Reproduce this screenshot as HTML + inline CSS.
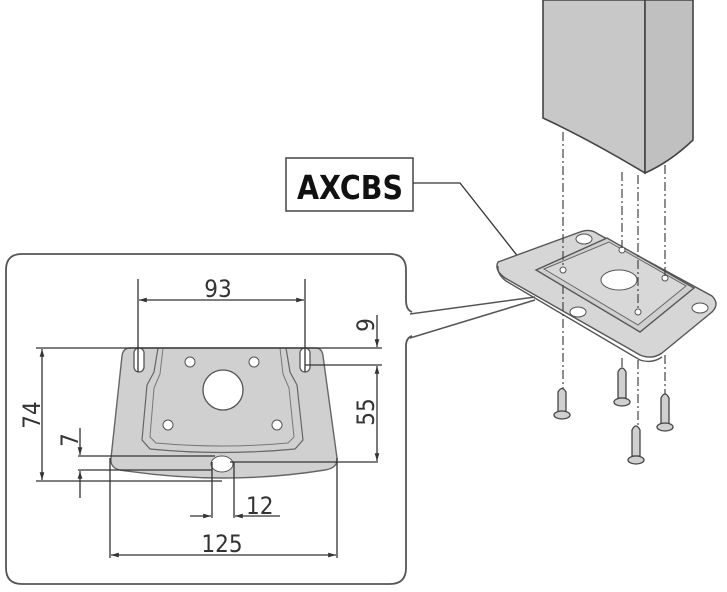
<!DOCTYPE html>
<html><head><meta charset="utf-8"><style>
html,body{margin:0;padding:0;background:#fff;}
svg{display:block;}
text{font-family:"DejaVu Sans Condensed","Liberation Sans",sans-serif;fill:#333;}
</style></head><body>
<svg width="727" height="592" viewBox="0 0 727 592" xmlns="http://www.w3.org/2000/svg">
<defs>
<marker id="a" viewBox="0 0 10 10" refX="10" refY="5" markerWidth="6" markerHeight="6" orient="auto-start-reverse"><path d="M0,2 L10,5 L0,8 z" fill="#333"/></marker>
</defs>
<!-- callout frame -->
<path d="M412,312 Q406,310 406,300 V270 Q406,254 390,254 H22 Q6,254 6,270 V568 Q6,584 22,584 H390 Q406,584 406,568 V346 Q406,338 412,336" fill="none" stroke="#555" stroke-width="1.8"/>
<line x1="410" y1="314" x2="535" y2="297" stroke="#555" stroke-width="1.5"/>
<line x1="410" y1="338" x2="535" y2="300" stroke="#555" stroke-width="1.5"/>

<!-- left flat plate -->
<path d="M130,348 H316 Q322,348 323,356 L337,458 Q338,468 325,470 Q225,486 120,470 Q110,468 111,458 L122,356 Q123,348 130,348 Z" fill="#d0d0d0" stroke="#666" stroke-width="1.4"/>
<path d="M158,348 L154,372 L147,385 L142,440 L150,449 Q222,456 295,449 L303,440 L297,385 L290,372 L286,348" fill="none" stroke="#666" stroke-width="1.2"/>
<path d="M163,348 L160,374 L154,388 L150,437 L156,443 Q222,449 288,443 L294,437 L289,388 L283,374 L280,348" fill="none" stroke="#777" stroke-width="1"/>
<rect x="134" y="348" width="10" height="24" rx="5" fill="#fff" stroke="#555" stroke-width="1.3"/>
<rect x="300" y="348" width="10" height="24" rx="5" fill="#fff" stroke="#555" stroke-width="1.3"/>
<circle cx="190" cy="362" r="5" fill="#fff" stroke="#555"/>
<circle cx="254" cy="362" r="5" fill="#fff" stroke="#555"/>
<circle cx="168" cy="425" r="5" fill="#fff" stroke="#555"/>
<circle cx="277" cy="425" r="5" fill="#fff" stroke="#555"/>
<circle cx="223" cy="390" r="20" fill="#fff" stroke="#555" stroke-width="1.3"/>
<ellipse cx="222" cy="464" rx="11" ry="8" fill="#fff" stroke="#555"/>

<g stroke="#333" stroke-width="1.3" fill="none">
<line x1="138" y1="279" x2="138" y2="372"/><line x1="305" y1="279" x2="305" y2="372"/>
<line x1="139" y1="300" x2="304" y2="300" marker-start="url(#a)" marker-end="url(#a)"/>
<line x1="36" y1="348" x2="382" y2="348"/>
<line x1="42" y1="349" x2="42" y2="480" marker-start="url(#a)" marker-end="url(#a)"/>
<line x1="36" y1="481" x2="222" y2="481"/>
<line x1="305" y1="365" x2="382" y2="365"/>
<line x1="377" y1="315" x2="377" y2="347" marker-end="url(#a)"/>
<line x1="377" y1="366" x2="377" y2="461" marker-start="url(#a)" marker-end="url(#a)"/>
<line x1="230" y1="462" x2="378" y2="462"/>
<line x1="80" y1="428" x2="80" y2="455" marker-end="url(#a)"/>
<line x1="80" y1="471" x2="80" y2="498" marker-start="url(#a)"/>
<line x1="78" y1="456" x2="215" y2="456"/>
<line x1="78" y1="470" x2="212" y2="470"/>
<line x1="212" y1="462" x2="212" y2="518"/><line x1="234" y1="462" x2="234" y2="518"/>
<line x1="190" y1="516" x2="211" y2="516" marker-end="url(#a)"/>
<line x1="280" y1="516" x2="235" y2="516" marker-end="url(#a)"/>
<line x1="110" y1="458" x2="110" y2="558"/><line x1="337" y1="458" x2="337" y2="558"/>
<line x1="111" y1="555" x2="336" y2="555" marker-start="url(#a)" marker-end="url(#a)"/>
</g>
<text x="218" y="297" font-size="24" text-anchor="middle">93</text>
<text x="246" y="514" font-size="24">12</text>
<text x="222" y="552" font-size="24" text-anchor="middle">125</text>
<text transform="translate(40,415) rotate(-90)" font-size="24" text-anchor="middle">74</text>
<text transform="translate(374,412) rotate(-90)" font-size="24" text-anchor="middle">55</text>
<text transform="translate(374,325) rotate(-90)" font-size="24" text-anchor="middle">9</text>
<text transform="translate(78,440) rotate(-90)" font-size="24" text-anchor="middle">7</text>

<!-- post -->
<path d="M543,0 V118 Q590,140 645,173 V0 Z" fill="#c8c8c8" stroke="#444" stroke-width="1.6"/>
<path d="M645,0 H693 V140 Q670,162 645,173 Z" fill="#c0c0c0" stroke="#444" stroke-width="1.6"/>

<!-- AXCBS -->
<rect x="286" y="158" width="127" height="53" fill="#fff" stroke="#444" stroke-width="1.5"/>
<text x="297" y="199" font-size="33" font-weight="bold" textLength="106" lengthAdjust="spacingAndGlyphs" style="fill:#111">AXCBS</text>
<polyline points="413,183 460,183 523,263" fill="none" stroke="#333" stroke-width="1.3"/>
<circle cx="523" cy="265" r="2" fill="#222"/>

<!-- 3D plate -->
<path d="M498,262 L580,232 Q590,228 598,234 L712,296 Q720,304 712,312 L662,353 Q652,360 640,355 L505,278 Q494,270 498,262 Z" fill="#d6d6d6" stroke="#555" stroke-width="1.4"/>
<path d="M498,266 Q497,274 506,281 L640,360 Q652,364 662,357" fill="none" stroke="#555" stroke-width="1.4"/>
<path d="M536,270 L607,238 L694,288 L640,332 Z" fill="#d0d0d0" stroke="#555" stroke-width="1.4"/>
<path d="M544,269 L609,242 L686,286 L638,325 Z" fill="#d8d8d8" stroke="#666" stroke-width="1"/>
<ellipse cx="619" cy="280" rx="18" ry="10" fill="#fff" stroke="#555"/>
<ellipse cx="584" cy="239" rx="8" ry="5" fill="#fff" stroke="#555"/>
<ellipse cx="578" cy="312" rx="8" ry="5" fill="#fff" stroke="#555"/>
<ellipse cx="700" cy="308" rx="8" ry="5" fill="#fff" stroke="#555"/>
<g fill="#fff" stroke="#555"><circle cx="563" cy="270" r="3"/><circle cx="622" cy="250" r="3"/><circle cx="665" cy="278" r="3"/><circle cx="638" cy="312" r="3"/></g>

<g stroke="#444" stroke-width="1.2" stroke-dasharray="9,3,2,3" fill="none">
<line x1="563" y1="132" x2="563" y2="268"/><line x1="563" y1="285" x2="563" y2="395"/>
<line x1="622" y1="172" x2="622" y2="248"/><line x1="622" y1="358" x2="622" y2="375"/>
<line x1="638" y1="175" x2="638" y2="310"/><line x1="638" y1="360" x2="638" y2="430"/>
<line x1="665" y1="165" x2="665" y2="276"/><line x1="665" y1="355" x2="665" y2="400"/>
</g>

<g fill="#d0d0d0" stroke="#444" stroke-width="1.3">
<path d="M558,392 Q562,385 566,392 V412 H558 Z"/><ellipse cx="562" cy="415" rx="8" ry="4"/>
<path d="M618,372 Q622,364 626,372 V398 H618 Z"/><ellipse cx="622" cy="402" rx="8" ry="4"/>
<path d="M632,430 Q636,422 640,430 V456 H632 Z"/><ellipse cx="636" cy="460" rx="8" ry="4"/>
<path d="M661,398 Q665,390 669,398 V424 H661 Z"/><ellipse cx="665" cy="427" rx="8" ry="4"/>
</g>
</svg>
</body></html>
